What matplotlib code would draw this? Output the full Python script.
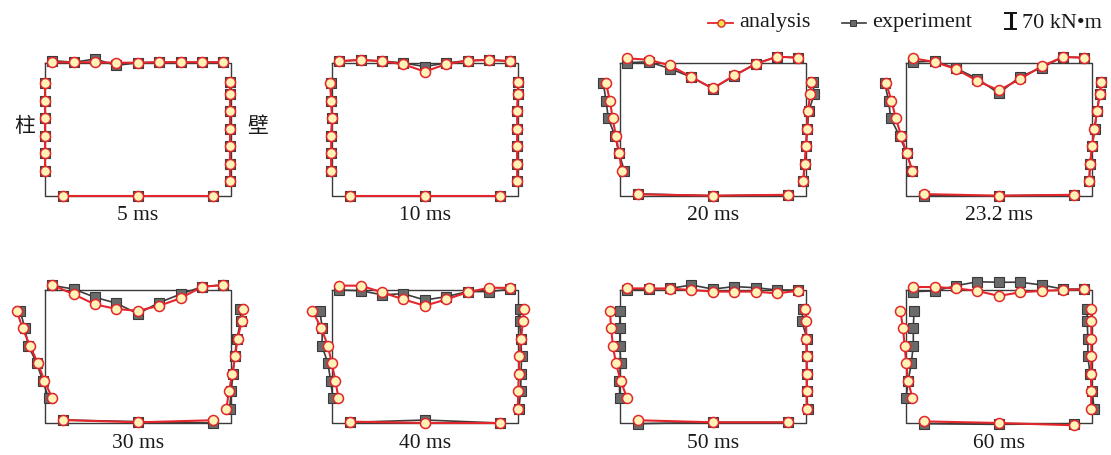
import matplotlib
matplotlib.use("Agg")
import matplotlib.pyplot as plt

plt.rcParams['font.family'] = ['Liberation Serif', 'Noto Sans CJK SC', 'DejaVu Sans']

# ---------------- data (bending moments, kN·m) ----------------
times = ["5 ms", "10 ms", "20 ms", "23.2 ms", "30 ms", "40 ms", "50 ms", "60 ms"]

# slab (top member), positive = drawn downward into the frame
top_ana = [
    [-2, -2, -2, 0, 0, -2, -2, -2, -2],
    [-7, -12, -7, 7, 39, 6, -9, -12, -7],
    [-19, -13, 12, 63, 112, 56, 6, -26, -22],
    [-19, -3, 28, 80, 121, 71, 16, -25, -22],
    [-22, 19, 63, 83, 91, 69, 36, -14, -22],
    [-19, -19, 10, 41, 69, 41, 10, -10, -9],
    [-7, -7, -6, 0, 7, 7, 7, 15, 3],
    [-13, -13, -7, 4, 26, 10, 4, 0, -3],
]
top_exp = [
    [-9, -2, -16, 12, 0, -2, -2, -2, -2],
    [-7, -12, -7, 1, 17, 1, -9, -12, -7],
    [0, -4, 26, 63, 114, 57, 4, -26, -22],
    [-3, -7, 25, 70, 134, 61, 22, -25, -22],
    [-20, -4, 32, 58, 104, 55, 18, -14, -22],
    [0, 3, 21, 16, 44, 29, 7, 7, -3],
    [0, -4, -7, -22, -4, -15, -10, 0, 0],
    [7, 4, -19, -36, -34, -34, -22, -4, -4],
]
# column 柱 (left member), positive = drawn outward (left)
left_ana = [
    [0, 0, 0, 0, 0, 0],
    [9, 3, 0, 3, 3, 3],
    [61, 44, 32, 18, 4, -9],
    [86, 64, 44, 21, -3, -28],
    [124, 98, 66, 31, 3, -32],
    [86, 47, 18, 1, -15, -28],
    [44, 39, 31, 18, -3, -31],
    [25, 13, 6, -1, -9, -28],
]
left_exp = [
    [0, 0, 0, 0, 0, 0],
    [6, 3, 0, 3, 3, 3],
    [73, 61, 51, 22, 4, -19],
    [93, 76, 67, 28, -3, -28],
    [109, 88, 73, 36, 10, -16],
    [54, 42, 44, 18, 6, -4],
    [1, 1, 1, -3, 3, 1],
    [-35, -32, -32, -23, -10, 0],
]
# wall 壁 (right member), positive = drawn outward (right)
right_ana = [
    [-3, -3, -3, -3, -3, -3, -3],
    [0, -1, -3, -3, -4, -3, -3],
    [23, 18, 9, 4, 0, -6, -13],
    [41, 34, 22, 10, 1, -9, -12],
    [54, 47, 29, 18, 6, -9, -20],
    [25, 22, 13, 6, 4, 1, -1],
    [-4, -1, 1, 3, 4, 3, 3],
    [-3, -3, -3, -3, -4, -3, -4],
]
right_exp = [
    [-3, -3, -3, -3, -3, -3, -3],
    [0, -1, -3, -3, -4, -3, -3],
    [29, 36, 12, 6, 0, -4, -12],
    [41, 34, 22, 12, 1, -9, -12],
    [41, 42, 26, 16, 9, 1, -6],
    [10, 7, 12, 16, 13, 12, 4],
    [-12, -18, 4, 3, 3, 4, 7],
    [-21, -21, -18, -18, -9, 1, 9],
]
# base slab (bottom member), positive = drawn upward into the frame
bot_ana = [[0, 0, 0], [0, 0, 0], [6, 0, 4], [7, 0, 4], [13, 3, 12], [6, 0, 0], [12, 3, 3], [7, 0, -10]]
bot_exp = [[0, 0, 0], [0, 0, 0], [8, 0, 4], [0, 0, 4], [13, 6, 0], [3, 13, 0], [-3, 3, 3], [-3, -6, -3]]

scale_value = 70  # kN·m shown by the scale bar

# ---------------- layout (pixel-like frame units) ----------------
W, H = 1111, 455
frame_w, frame_h = 186, 133
top_pos = [7.3, 28.7, 50.1, 71.4, 92.8, 114.2, 135.6, 156.9, 178.3]
left_pos = [20.6, 38.2, 55.7, 73.3, 90.7, 108.2]
right_pos = [19.4, 31.2, 48.6, 66.2, 83.5, 101.1, 118.5]
bot_pos = [18.3, 93.3, 167.7]
col_left = [45, 332, 620, 906]
row_top = [62.7, 290]
k = 16.0 / 70.0  # frame units per kN·m

RED = '#e3262b'
FILL = '#fff3b8'
GREY_LINE = '#3c3c3c'
GREY_FILL = '#6a6a6a'
FRAME = '#3a3a3a'

fig = plt.figure(figsize=(W / 100, H / 100), dpi=100)

ana_style = dict(color=RED, lw=1.5, marker='o', ms=7.2, mfc=FILL, mec=RED, mew=1.1,
                 clip_on=False, zorder=4)
exp_style = dict(color=GREY_LINE, lw=1.2, marker='s', ms=6.6, mfc=GREY_FILL, mec='#3a3a3a',
                 mew=0.8, clip_on=False, zorder=3)

m_l, m_r, m_t, m_b = 50, 50, 30, 32
for i in range(8):
    L = col_left[i % 4]
    T = row_top[i // 4]
    ax = fig.add_axes([(L - m_l) / W, 1 - (T + frame_h + m_b) / H,
                       (frame_w + m_l + m_r) / W, (frame_h + m_t + m_b) / H])
    ax.set_xlim(-m_l, frame_w + m_r)
    ax.set_ylim(frame_h + m_b, -m_t)
    ax.axis('off')
    ax.plot([0, frame_w, frame_w, 0, 0], [0, 0, frame_h, frame_h, 0],
            color=FRAME, lw=1.0, zorder=2, clip_on=False)
    for (tv, lv, rv, bv, st) in ((top_exp[i], left_exp[i], right_exp[i], bot_exp[i], exp_style),
                                 (top_ana[i], left_ana[i], right_ana[i], bot_ana[i], ana_style)):
        ax.plot(top_pos, [v * k for v in tv], **st)
        ax.plot([-v * k for v in lv], left_pos, **st)
        ax.plot([frame_w + v * k for v in rv], right_pos, **st)
        ax.plot(bot_pos, [frame_h - v * k for v in bv], **st)
    ax.text(frame_w / 2, frame_h + 24.5, times[i], ha='center', va='baseline', fontsize=15.5,
            color='#1a1a1a')
    if i == 0:
        ax.text(-20, 63.5, '柱', ha='center', va='center', fontsize=15,
                family=['Noto Sans CJK SC', 'DejaVu Sans'], color='#1a1a1a')
        ax.text(213, 63.5, '壁', ha='center', va='center', fontsize=15,
                family=['Noto Sans CJK SC', 'DejaVu Sans'], color='#1a1a1a')

# ---------------- legend ----------------
lg = fig.add_axes([0, 0, 1, 1], zorder=10)
lg.set_xlim(0, W)
lg.set_ylim(H, 0)
lg.axis('off')
lg.patch.set_alpha(0)
lg.plot([708, 733], [22.5, 22.5], color=RED, lw=1.3)
lg.plot([720.5], [22.5], marker='o', ms=5.2, mfc='#f2e24a', mec=RED, mew=1.0, color=RED)
lg.text(739, 27.5, 'analysis', fontsize=16, va='baseline', ha='left', color='#1a1a1a')
lg.plot([842, 866], [22.5, 22.5], color=GREY_LINE, lw=1.2)
lg.plot([853], [22.5], marker='s', ms=4.8, mfc=GREY_FILL, mec='#3a3a3a', mew=0.7)
lg.text(872, 27.5, 'experiment', fontsize=16, va='baseline', ha='left', color='#1a1a1a')
bar_x, bar_mid = 1010.5, 21
half = scale_value * k / 2
lg.plot([bar_x, bar_x], [bar_mid - half, bar_mid + half], color='#111111', lw=2.2,
        solid_capstyle='butt')
lg.plot([bar_x - 5.5, bar_x + 5.5], [bar_mid - half, bar_mid - half], color='#111111', lw=1.4)
lg.plot([bar_x - 5.5, bar_x + 5.5], [bar_mid + half, bar_mid + half], color='#111111', lw=1.4)
lg.text(1022, 28, f'{scale_value} kN•m', fontsize=16, va='baseline', ha='left', color='#1a1a1a')

fig.savefig('out.png', dpi=100)
